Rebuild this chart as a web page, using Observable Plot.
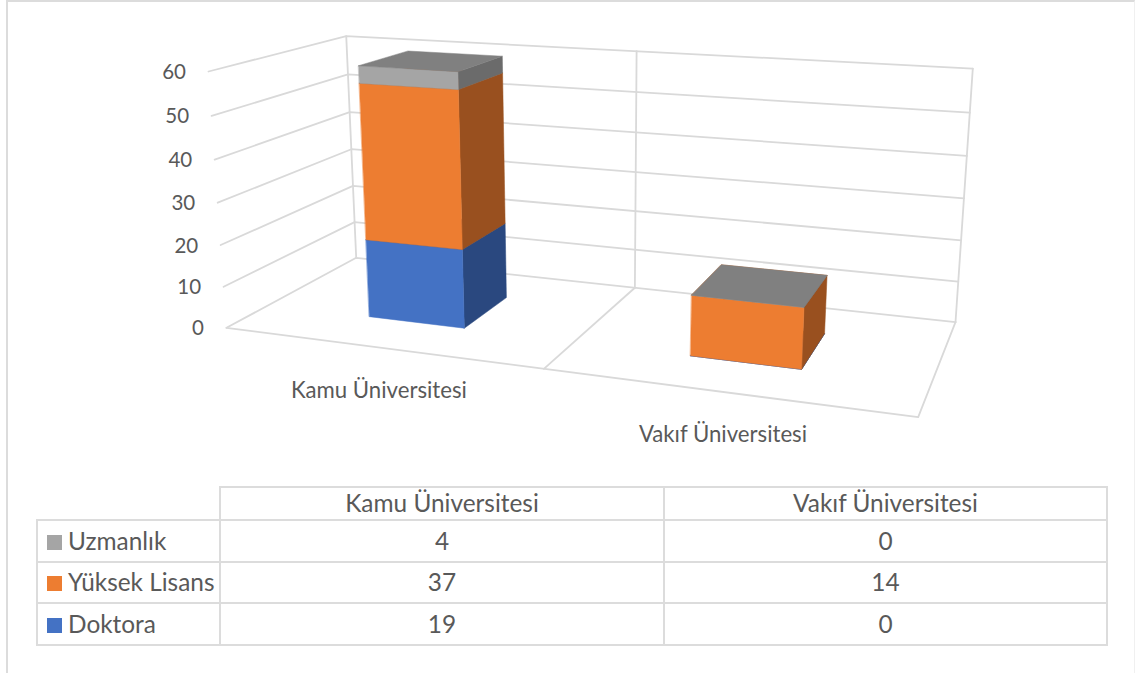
<!DOCTYPE html>
<html>
<head>
<meta charset="utf-8">
<script src="https://cdn.jsdelivr.net/npm/d3@7"></script>
<script src="https://cdn.jsdelivr.net/npm/@observablehq/plot@0.6"></script>
<style>
  html, body { margin: 0; padding: 0; background: #fff; }
  #page { position: relative; width: 1136px; height: 673px; overflow: hidden; font-family: Lato, sans-serif; color: #595959; }
  #frame { position: absolute; left: 6px; top: 0; width: 1129px; height: 673px; box-sizing: border-box;
           border-left: 2px solid #dcdcdc; border-top: 2px solid #dcdcdc; border-right: 1px solid #f0f0f0; }
  #chart { position: absolute; left: 0; top: 0; }
  #chart svg { display: block; background: transparent; }
  table { position: absolute; left: 36px; top: 486px; border-collapse: collapse; table-layout: fixed; width: 1070px; font-size: 24.4px; line-height: 1; }
  td { border: 2px solid #dcdcdc; text-align: center; padding: 0; box-sizing: border-box; white-space: nowrap; overflow: visible; }
  td.blank { border: none; border-right: 2px solid #dcdcdc; border-bottom: 2px solid #dcdcdc; }
  td.name { text-align: left; padding-left: 9px; }
  .swatch { display: inline-block; width: 15px; height: 15px; margin-right: 6px; }
</style>
</head>
<body>
<div id="page"><div id="frame"></div><div id="chart"></div></div>
<script>
// Data (table order is top to bottom, stack order is the reverse)
const categories = ["Kamu Üniversitesi", "Vakıf Üniversitesi"];
const seriesNames = ["Doktora", "Yüksek Lisans", "Uzmanlık"];
const doktora = [19, 0];
const yuksekLisans = [37, 14];
const uzmanlik = [4, 0];
const ticks = [0, 10, 20, 30, 40, 50, 60];
const valueMax = 60;

const frontColors = ["#4472C4", "#ED7D31", "#A5A5A5"];
const sideColors = ["#2A487F", "#99501F", "#6B6B6B"];
const topColors = ["#2F5597", "#B85F24", "#808080"];
const seriesValues = [doktora, yuksekLisans, uzmanlik];

// Perspective camera of the 3D box: u across, d depth, v = value / max, all in 0..1
const cam = {
  ox: 226, oy: 327.3,
  ux: 552.0, uy: 25.97, uw: -0.15222,
  dx: 187.91, dy: -27.89, dw: 0.16365,
  vx: -27.66, vy: -259.6, vw: -0.04644
};
function project(u, d, value) {
  const v = value / valueMax;
  const w = 1 + u * cam.uw + d * cam.dw + v * cam.vw;
  return {
    px: (cam.ox + u * cam.ux + d * cam.dx + v * cam.vx) / w,
    py: (cam.oy + u * cam.uy + d * cam.dy + v * cam.vy) / w
  };
}

// Box grid: one polyline per gridline, built from the tick values
const grid = [];
const addLine = (id, pts) => pts.forEach(([u, d, val]) => grid.push({id, ...project(u, d, val)}));
ticks.forEach(t => addLine("tick" + t, [[0, 0, t], [0, 1, t], [1, 1, t]]));
[0, 0.5, 1].forEach(u => addLine("wall" + u, [[u, 1, 0], [u, 1, valueMax]]));
addLine("floor", [[0, 0, 0], [1, 0, 0], [1, 1, 0]]);
addLine("divider", [[0.5, 0, 0], [0.5, 1, 0]]);

// Bars: three faces per stacked segment, painted from the bottom of the stack up
const barHalf = 0.078, dFront = 0.3, dBack = 0.7;
const faces = [];
categories.forEach((cat, c) => {
  const uc = (c + 0.5) / categories.length;
  const u0 = uc - barHalf, u1 = uc + barHalf;
  let base = 0;
  seriesNames.forEach((name, s) => {
    const end = base + seriesValues[s][c];
    const push = (tag, color, pts) => pts.forEach(([u, d, val]) =>
      faces.push({id: `${cat}-${name}-${tag}`, color, ...project(u, d, val)}));
    push("side", sideColors[s], [[u1, dFront, base], [u1, dBack, base], [u1, dBack, end], [u1, dFront, end]]);
    push("front", frontColors[s], [[u0, dFront, base], [u1, dFront, base], [u1, dFront, end], [u0, dFront, end]]);
    push("top", topColors[s], [[u0, dFront, end], [u1, dFront, end], [u1, dBack, end], [u0, dBack, end]]);
    base = end;
  });
});

const tickLabels = ticks.map(t => ({label: String(t), ...project(0, 0, t)}));
const catLabels = categories.map((label, c) => ({label, ...project((c + 0.5) / categories.length, 0, 0)}));

const W = 1136, H = 473;
const chart = Plot.plot({
  width: W, height: H, margin: 0,
  x: {domain: [0, W], range: [0, W], axis: null},
  y: {domain: [0, H], range: [0, H], axis: null},
  color: {type: "identity"},
  style: {fontFamily: "Lato, sans-serif", background: "transparent"},
  marks: [
    Plot.line(grid, {x: "px", y: "py", z: "id", stroke: "#D9D9D9", strokeWidth: 1.8, curve: "linear"}),
    Plot.line(faces, {x: "px", y: "py", z: "id", fill: "color", stroke: "color", strokeWidth: 0.5, curve: "linear-closed"}),
    Plot.text(tickLabels, {x: "px", y: "py", text: "label", textAnchor: "end", dx: -22.5, dy: 1, fontSize: 20.5, fill: "#595959"}),
    Plot.text(catLabels, {x: "px", y: "py", text: "label", textAnchor: "middle", dy: 43, fontSize: 22.2, fill: "#595959"})
  ]
});
document.getElementById("chart").appendChild(chart);

// Data table below the chart
const table = d3.select("#page").append("table");
const cg = table.append("colgroup");
[183, 444, 443].forEach(w => cg.append("col").style("width", w + "px"));
const head = table.append("tr").style("height", "33px");
head.append("td").attr("class", "blank");
categories.forEach(c => head.append("td").text(c));
[2, 1, 0].forEach(s => {
  const tr = table.append("tr").style("height", "41.5px");
  const name = tr.append("td").attr("class", "name");
  name.append("span").attr("class", "swatch").style("background", frontColors[s]);
  name.append("span").text(seriesNames[s]);
  seriesValues[s].forEach(v => tr.append("td").text(v));
});
</script>
</body>
</html>
